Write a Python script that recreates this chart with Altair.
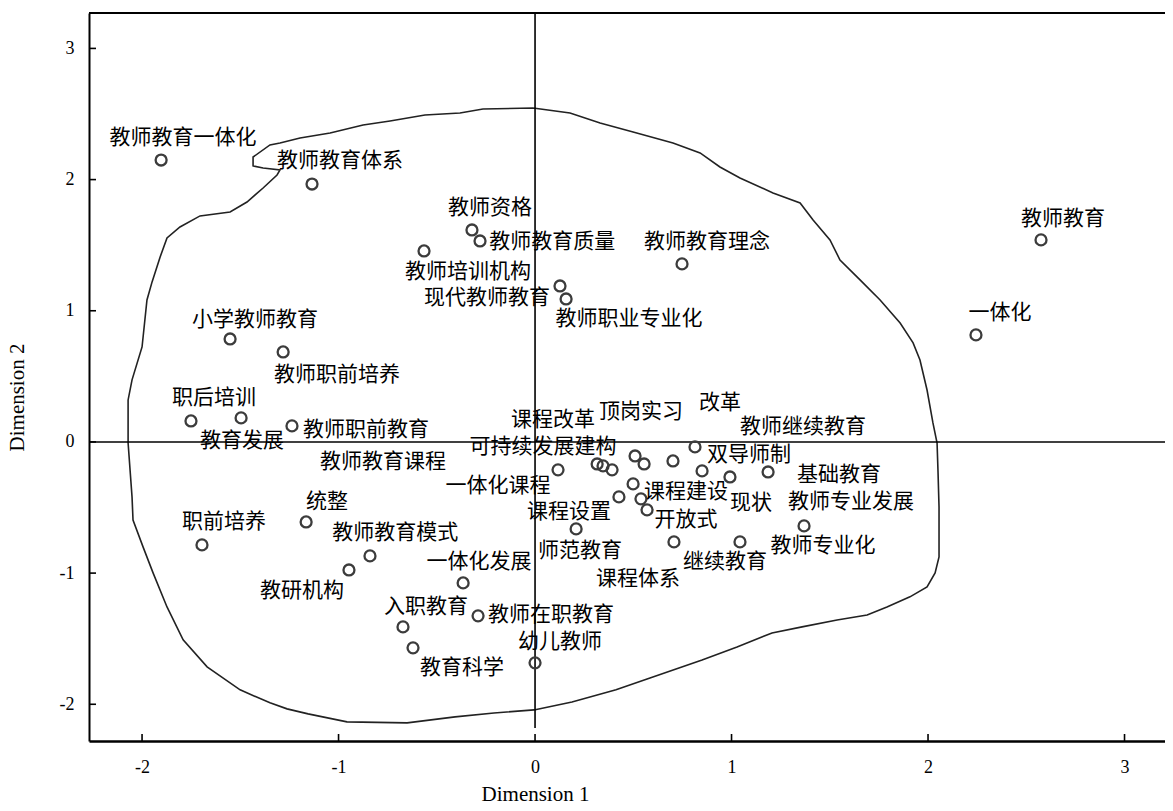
import altair as alt
import pandas as pd

# ---- data ----
terms = [
    "教师教育一体化", "教师教育体系", "教师资格", "教师教育质量", "教师培训机构",
    "现代教师教育", "教师职业专业化", "教师教育理念", "教师教育", "一体化",
    "小学教师教育", "教师职前培养", "职后培训", "教育发展", "教师职前教育",
    "职前培养", "统整", "教师教育模式", "教研机构", "一体化发展",
    "入职教育", "教育科学", "教师在职教育", "幼儿教师",
    "一体化课程", "可持续发展建构", "课程改革", "教师教育课程", "顶岗实习",
    "", "教师继续教育", "改革", "双导师制", "现状", "基础教育",
    "课程建设", "课程设置", "课程体系", "开放式", "师范教育",
    "继续教育", "教师专业化", "教师专业发展",
]
dim1 = [
    -1.903, -1.135, -0.321, -0.280, -0.565,
    0.127, 0.158, 0.748, 2.575, 2.244,
    -1.552, -1.282, -1.751, -1.496, -1.237,
    -1.695, -1.165, -0.840, -0.947, -0.366,
    -0.672, -0.621, -0.290, 0.000,
    0.117, 0.316, 0.346, 0.392, 0.509,
    0.555, 0.702, 0.814, 0.850, 0.992, 1.186,
    0.499, 0.427, 0.539, 0.570, 0.209,
    0.707, 1.043, 1.369,
]
dim2 = [
    2.149, 1.966, 1.616, 1.532, 1.456,
    1.189, 1.090, 1.357, 1.540, 0.816,
    0.785, 0.686, 0.160, 0.183, 0.122,
    -0.785, -0.610, -0.869, -0.976, -1.075,
    -1.410, -1.570, -1.326, -1.684,
    -0.213, -0.168, -0.183, -0.213, -0.107,
    -0.168, -0.145, -0.038, -0.221, -0.267, -0.229,
    -0.320, -0.419, -0.434, -0.518, -0.663,
    -0.762, -0.762, -0.640,
]
label_x = [
    -1.791, -0.992, -0.229, 0.087, -0.341,
    -0.244, 0.478, 0.875, 2.687, 2.366,
    -1.425, -1.008, -1.634, -1.491, -0.860,
    -1.583, -1.059, -0.712, -1.186, -0.285,
    -0.555, -0.372, 0.081, 0.127,
    -0.188, 0.041, 0.092, -0.774, 0.539,
    0.555, 1.364, 0.941, 1.089, 1.099, 1.547,
    0.768, 0.173, 0.524, 0.768, 0.229,
    0.967, 1.466, 1.608,
]
label_y = [
    2.317, 2.142, 1.784, 1.524, 1.296,
    1.098, 0.938, 1.524, 1.700, 0.983,
    0.930, 0.511, 0.335, 0.008, 0.091,
    -0.610, -0.457, -0.694, -1.136, -0.915,
    -1.258, -1.723, -1.319, -1.524,
    -0.335, -0.038, 0.168, -0.152, 0.229,
    -0.168, 0.114, 0.297, -0.099, -0.465, -0.252,
    -0.381, -0.534, -1.044, -0.595, -0.831,
    -0.915, -0.793, -0.457,
]

# boundary outline (closed path)
outline_x = [
    -0.010, 0.178, 0.331, 0.499, 0.702, 0.840, 0.941, 1.043, 1.211, 1.349,
    1.415, 1.501, 1.552, 1.654, 1.756, 1.858, 1.924, 1.959, 1.995, 2.025,
    2.046, 2.051, 2.056, 2.056, 2.036, 1.995, 1.908, 1.791, 1.690, 1.537,
    1.359, 1.206, 1.028, 0.850, 0.585, 0.412, 0.188, -0.005, -0.209, -0.407,
    -0.651, -0.957, -1.155, -1.262, -1.349, -1.501, -1.669, -1.791, -1.873, -1.944,
    -1.995, -2.046, -2.051, -2.071, -2.071, -2.051, -2.000, -1.975, -1.949, -1.908,
    -1.873, -1.807, -1.705, -1.552, -1.466, -1.384, -1.313, -1.298, -1.384, -1.435,
    -1.435, -1.349, -1.298, -1.196, -1.043, -0.875, -0.738, -0.560, -0.382, -0.265,
    -0.010,
]
outline_y = [
    2.546, 2.508, 2.431, 2.363, 2.279, 2.203, 2.096, 2.012, 1.898, 1.822,
    1.692, 1.540, 1.387, 1.235, 1.082, 0.907, 0.755, 0.625, 0.396, 0.145,
    -0.008, -0.236, -0.495, -0.877, -0.998, -1.105, -1.181, -1.258, -1.319, -1.357,
    -1.410, -1.456, -1.563, -1.662, -1.799, -1.890, -1.982, -2.043, -2.066, -2.096,
    -2.142, -2.134, -2.073, -2.035, -1.989, -1.890, -1.715, -1.509, -1.258, -0.998,
    -0.800, -0.595, -0.419, -0.008, 0.320, 0.473, 0.724, 1.082, 1.220, 1.410,
    1.555, 1.639, 1.723, 1.753, 1.829, 1.936, 2.035, 2.073, 2.088, 2.104,
    2.172, 2.264, 2.279, 2.317, 2.355, 2.416, 2.447, 2.492, 2.508, 2.538,
    2.546,
]

tick_values = [-2, -1, 0, 1, 2, 3]
x_domain = [-2.270, 3.206]
y_domain = [-2.280, 3.270]
vline_bottom = -2.18

W, H = 1076, 728

points = pd.DataFrame({"d1": dim1, "d2": dim2, "term": terms,
                       "lx": label_x, "ly": label_y})
outline = pd.DataFrame({"x": outline_x, "y": outline_y,
                        "o": list(range(len(outline_x)))})
ticks = pd.DataFrame({"t": tick_values})

xs = alt.Scale(domain=x_domain, nice=False, zero=False)
ys = alt.Scale(domain=y_domain, nice=False, zero=False)

lab_expr = "'' + datum.value"

xaxis = alt.Axis(values=tick_values, labelExpr=lab_expr, grid=False, ticks=False,
                 domainColor="black", domainWidth=2.5, labelPadding=17,
                 labelFont="Liberation Serif", labelFontSize=18, labelColor="black",
                 title="Dimension 1", titleFont="Liberation Serif", titleFontSize=21,
                 titleFontWeight="normal", titleColor="black",
                 titleX=446, titleY=53, titleBaseline="middle", titleAlign="center")
yaxis = alt.Axis(values=tick_values, labelExpr=lab_expr, grid=False, ticks=False,
                 domainColor="black", domainWidth=2, labelPadding=15,
                 labelFont="Liberation Serif", labelFontSize=18, labelColor="black",
                 title="Dimension 2", titleFont="Liberation Serif", titleFontSize=21,
                 titleFontWeight="normal", titleColor="black",
                 titleX=-72, titleY=384, titleBaseline="middle", titleAlign="center")

base_x = alt.X("x:Q", scale=xs, axis=xaxis)
base_y = alt.Y("y:Q", scale=ys, axis=yaxis)

curve = alt.Chart(outline).mark_line(color="#222222", strokeWidth=1.6,
                                     clip=True).encode(
    x=base_x, y=base_y, order="o:Q")

hline = alt.Chart(pd.DataFrame({"y": [0.0]})).mark_rule(
    color="black", strokeWidth=1.6).encode(y=alt.Y("y:Q", scale=ys))

vline = alt.Chart(pd.DataFrame({"x": [0.0], "y": [y_domain[1]],
                                "y2": [vline_bottom]})).mark_rule(
    color="black", strokeWidth=1.6).encode(
    x=alt.X("x:Q", scale=xs), y=alt.Y("y:Q", scale=ys), y2="y2:Q")

pts = alt.Chart(points).mark_point(shape="circle", filled=False, size=120,
                                   stroke="#3c3c3c", strokeWidth=2.3,
                                   opacity=1).encode(
    x=alt.X("d1:Q", scale=xs), y=alt.Y("d2:Q", scale=ys))

labels = alt.Chart(points).mark_text(font="Noto Sans CJK SC", fontSize=21,
                                     color="black", align="center",
                                     baseline="middle").encode(
    x=alt.X("lx:Q", scale=xs), y=alt.Y("ly:Q", scale=ys), text="term:N")

xticks = alt.Chart(ticks).mark_rule(color="black", strokeWidth=1.6).encode(
    x=alt.X("t:Q", scale=xs), y=alt.value(H), y2=alt.value(H - 7))
yticks = alt.Chart(ticks).mark_rule(color="black", strokeWidth=1.6).encode(
    y=alt.Y("t:Q", scale=ys), x=alt.value(0), x2=alt.value(7))

top_frame = alt.Chart(ticks).mark_rule(color="black", strokeWidth=2).encode(
    x=alt.value(0), x2=alt.value(W), y=alt.value(0))

chart = alt.layer(curve, hline, vline, pts, labels, xticks, yticks, top_frame).properties(
    width=W, height=H,
    autosize=alt.AutoSizeParams(type="none"),
    padding={"left": 81, "top": 5, "right": 0, "bottom": 62},
    background="white",
).configure_view(stroke=None)

chart.save("out.html", embed_options={"renderer": "svg", "actions": False})
